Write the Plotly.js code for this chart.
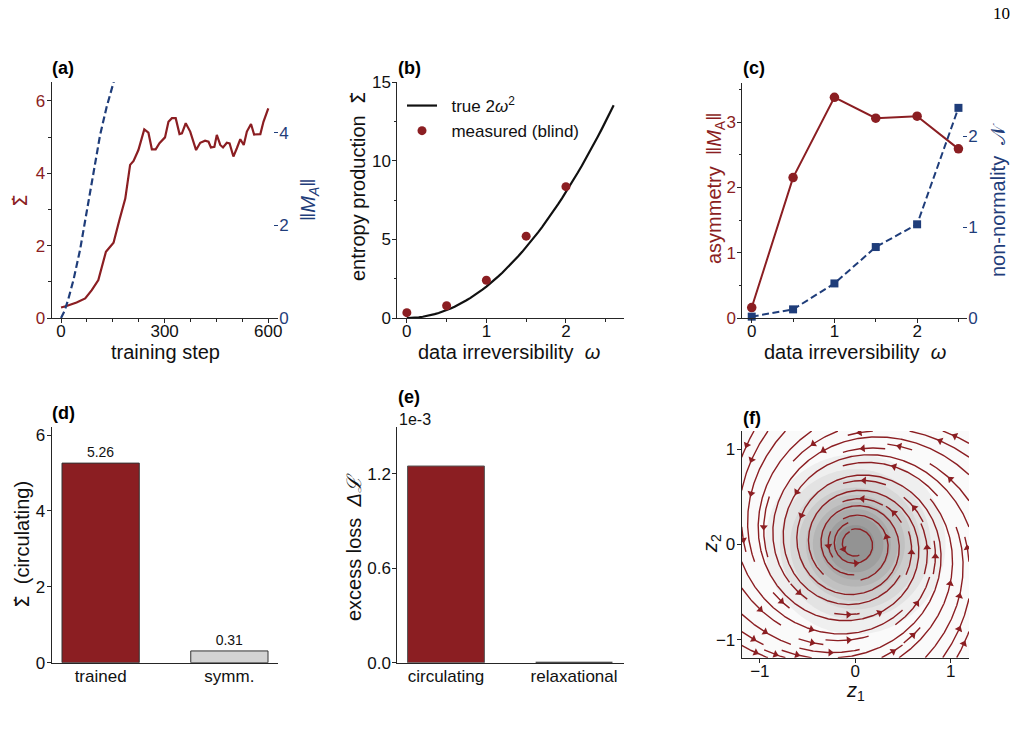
<!DOCTYPE html>
<html>
<head>
<meta charset="utf-8">
<script src="https://cdn.plot.ly/plotly-3.0.1.min.js"></script>
<style>
  html, body { margin: 0; padding: 0; background: #ffffff; }
  #fig { width: 1021px; height: 737px; }
</style>
</head>
<body>
<div id="fig"></div>
<script>
// ---------------- data ----------------
// (a) training curves
const trainStep = [0,16,45,70,89,108,130,152,169,186,200,210,224,241,253,263,274,285,301,311,321,332,343,350,361,374,391,403,417,427,434,444,451,461,469,480,488,499,509,519,529,538,550,559,577,586,600];
const trainSigma = [0.29,0.33,0.43,0.54,0.77,1.05,1.83,2.08,2.71,3.30,4.23,4.34,4.64,5.21,5.12,4.66,4.66,4.83,4.99,5.42,5.52,5.52,5.08,5.10,5.38,5.15,4.64,4.84,4.90,4.87,4.71,4.73,5.06,4.78,4.71,4.84,4.82,4.46,4.69,4.94,4.78,5.15,5.36,5.07,5.08,5.42,5.79];
const normStep = [0,10,20,36,55,74,94,113,132,152,172];
const normMA   = [0,0.15,0.38,0.82,1.47,2.30,3.15,3.95,4.56,5.10,5.62];

// (b) entropy production vs irreversibility
const omegaB = [0, 0.5, 1.0, 1.5, 2.0];
const sigmaMeasured = [0.34, 0.78, 2.40, 5.20, 8.35];
const omegaTrueMax = 2.6;

// (c) asymmetry and non-normality
const omegaC = [0, 0.5, 1.0, 1.5, 2.0, 2.5];
const asymNorm = [0.16, 2.15, 3.38, 3.06, 3.09, 2.59];
const nonNormality = [0.015, 0.095, 0.38, 0.78, 1.03, 2.31];

// (d) circulating entropy production
const circCats = ['trained', 'symm.'];
const circSigma = [5.26, 0.31];

// (e) excess loss
const lossCats = ['circulating', 'relaxational'];
const excessLoss = [1.25e-3, 0.0];
const lossUnit = 1e-3;

// (f) learned drift in latent space: rotation plus radial relaxation
const SPIN = 1.0;
const DAMP0 = 0.06;
const DAMP2 = 0.11;
const DENS_SIGMA = 0.44;
const LAT = 1.19;
const STREAM_DENSITY = 0.9;

// ---------------- helpers ----------------
const W = 1021, H = 737;
const px = p => p / W;
const py = p => 1 - p / H;
const FONT = 'Liberation Sans, Arial, Helvetica, sans-serif';
const RED = '#8b1e22';
const BLUE = '#1f3d7a';
const INK = '#111111';
const SPINE = '#262626';
const SIGDOT = '<span style="font-family:DejaVu Sans">Σ\u0307</span>';

function drift(x, y) {
  const r2 = x * x + y * y;
  const g = DAMP0 + DAMP2 * r2;
  return [-g * x - SPIN * y, SPIN * x - g * y];
}

// Streamline tracer in the spirit of matplotlib's streamplot
function traceStreamlines(field, lo, hi, density) {
  const nm = Math.round(30 * density);
  const mask = new Uint8Array(nm * nm);
  const span = hi - lo;
  const ds = 0.004, maxLen = 4.0, minLen = 0.1;
  const cell = (u, v) => [Math.round(u * (nm - 1)), Math.round(v * (nm - 1))];
  const dir = (u, v) => {
    const f = field(lo + u * span, lo + v * span);
    const a = f[0] / span, b = f[1] / span;
    const s = Math.hypot(a, b);
    return s === 0 ? null : [a / s, b / s];
  };
  const inside = (u, v) => u >= 0 && u <= 1 && v >= 0 && v <= 1;

  function run(u0, v0, sgn, marked) {
    let u = u0, v = v0, len = 0;
    let [cx, cy] = cell(u, v);
    const pts = [];
    while (len < maxLen) {
      const d1 = dir(u, v);
      if (!d1) break;
      const um = u + 0.5 * ds * sgn * d1[0], vm = v + 0.5 * ds * sgn * d1[1];
      if (!inside(um, vm)) break;
      const d2 = dir(um, vm);
      if (!d2) break;
      let un = u + ds * sgn * d2[0], vn = v + ds * sgn * d2[1];
      if (!inside(un, vn)) {
        un = Math.min(1, Math.max(0, un));
        vn = Math.min(1, Math.max(0, vn));
        pts.push([un, vn]);
        len += ds;
        break;
      }
      const [nx, ny] = cell(un, vn);
      if (nx !== cx || ny !== cy) {
        const k = ny * nm + nx;
        if (mask[k]) break;
        mask[k] = 1; marked.push(k);
        cx = nx; cy = ny;
      }
      u = un; v = vn; len += ds;
      pts.push([u, v]);
    }
    return [pts, len];
  }

  // seeds spiral inwards from the border of the mask
  const seeds = [];
  let xf = 0, yf = 1, xl = nm - 1, yl = nm - 1, x = 0, y = 0, d = 'right';
  for (let i = 0; i < nm * nm; i++) {
    seeds.push([x, y]);
    if (d === 'right') { x++; if (x >= xl) { xl--; d = 'up'; } }
    else if (d === 'up') { y++; if (y >= yl) { yl--; d = 'left'; } }
    else if (d === 'left') { x--; if (x <= xf) { xf++; d = 'down'; } }
    else { y--; if (y <= yf) { yf++; d = 'right'; } }
  }

  const lines = [];
  for (const [xm, ym] of seeds) {
    const k0 = ym * nm + xm;
    if (mask[k0]) continue;
    const u0 = xm / (nm - 1), v0 = ym / (nm - 1);
    const marked = [k0];
    mask[k0] = 1;
    const [bp, bl] = run(u0, v0, -1, marked);
    const [fp, fl] = run(u0, v0, 1, marked);
    if (bl + fl > minLen) {
      const pts = bp.reverse().concat([[u0, v0]], fp);
      lines.push(pts.map(p => [lo + p[0] * span, lo + p[1] * span]));
    } else {
      for (const k of marked) mask[k] = 0;
    }
  }
  return lines;
}

// ---------------- traces ----------------
const traces = [];

// (a)
traces.push({
  x: trainStep, y: trainSigma, xaxis: 'x', yaxis: 'y', mode: 'lines',
  line: { color: RED, width: 2.2 }, showlegend: false, hoverinfo: 'skip'
});
traces.push({
  x: normStep, y: normMA, xaxis: 'x', yaxis: 'y2', mode: 'lines',
  line: { color: BLUE, width: 2.2, dash: '7px,3.5px' }, showlegend: false, hoverinfo: 'skip'
});

// (b)
const omegaFine = [], sigmaTrue = [];
for (let i = 0; i <= 52; i++) { const w = omegaTrueMax * i / 52; omegaFine.push(w); sigmaTrue.push(2 * w * w); }
traces.push({
  x: omegaFine, y: sigmaTrue, xaxis: 'x2', yaxis: 'y3', mode: 'lines',
  line: { color: '#111111', width: 2.2 }, name: '\u00a0\u00a0true 2<i>ω</i><sup>2</sup>', showlegend: true, hoverinfo: 'skip'
});
traces.push({
  x: omegaB, y: sigmaMeasured, xaxis: 'x2', yaxis: 'y3', mode: 'markers',
  marker: { color: RED, size: 9 }, name: '\u00a0\u00a0measured (blind)', showlegend: true, cliponaxis: false, hoverinfo: 'skip'
});

// (c)
traces.push({
  x: omegaC, y: asymNorm, xaxis: 'x3', yaxis: 'y4', mode: 'lines+markers',
  line: { color: RED, width: 2 }, marker: { color: RED, size: 9.5 }, showlegend: false, cliponaxis: false, hoverinfo: 'skip'
});
traces.push({
  x: omegaC, y: nonNormality, xaxis: 'x3', yaxis: 'y5', mode: 'lines+markers',
  line: { color: BLUE, width: 2, dash: '7px,3.5px' }, marker: { color: BLUE, size: 8, symbol: 'square' }, showlegend: false, cliponaxis: false, hoverinfo: 'skip'
});

// (d)
traces.push({
  type: 'bar', x: circCats, y: circSigma, xaxis: 'x4', yaxis: 'y6', width: 0.6,
  marker: { color: [RED, '#d3d3d3'], line: { color: '#333333', width: 1 } },
  text: circSigma.map(v => v.toFixed(2)), textposition: 'outside', cliponaxis: false,
  textfont: { family: FONT, size: 14, color: INK }, showlegend: false, hoverinfo: 'skip'
});

// (e)
traces.push({
  type: 'bar', x: lossCats, y: excessLoss.map(v => v / lossUnit), xaxis: 'x5', yaxis: 'y7', width: 0.6,
  marker: { color: [RED, '#222222'], line: { color: ['#555555', '#111111'], width: [1, 2] } },
  showlegend: false, hoverinfo: 'skip'
});

// (f) density backdrop
const gx = [];
for (let i = 0; i <= 80; i++) gx.push(-LAT + 2 * LAT * i / 80);
const dens = gx.map(yv => gx.map(xv => Math.exp(-(xv * xv + yv * yv) / (2 * DENS_SIGMA * DENS_SIGMA))));
traces.push({
  type: 'contour', x: gx, y: gx, z: dens, xaxis: 'x6', yaxis: 'y8',
  colorscale: [[0, '#fafafa'], [1, '#939393']], zmin: 0, zmax: 1, autocontour: false,
  contours: { start: 0.1, end: 0.9, size: 0.1, coloring: 'fill', showlines: false },
  line: { width: 0 }, showscale: false, hoverinfo: 'skip'
});

// (f) streamlines and arrowheads
const lines = traceStreamlines(drift, -LAT, LAT, STREAM_DENSITY);
const sx = [], sy = [], ax = [], ay = [], aang = [];
for (const ln of lines) {
  for (const p of ln) { sx.push(p[0]); sy.push(p[1]); }
  sx.push(null); sy.push(null);
  const cum = [0];
  for (let i = 1; i < ln.length; i++) cum.push(cum[i - 1] + Math.hypot(ln[i][0] - ln[i - 1][0], ln[i][1] - ln[i - 1][1]));
  const half = cum[cum.length - 1] / 2;
  let n = cum.findIndex(c => c >= half);
  if (n < 0 || n >= ln.length - 1) n = Math.max(0, ln.length - 2);
  const dx = ln[n + 1][0] - ln[n][0], dy = ln[n + 1][1] - ln[n][1];
  ax.push((ln[n][0] + ln[n + 1][0]) / 2);
  ay.push((ln[n][1] + ln[n + 1][1]) / 2);
  aang.push(Math.atan2(dx, dy) * 180 / Math.PI);
}
traces.push({
  x: sx, y: sy, xaxis: 'x6', yaxis: 'y8', mode: 'lines',
  line: { color: RED, width: 1.4 }, connectgaps: false, showlegend: false, hoverinfo: 'skip'
});
traces.push({
  x: ax, y: ay, xaxis: 'x6', yaxis: 'y8', mode: 'markers',
  marker: { symbol: 'triangle-up', size: 7, color: RED, angle: aang, line: { width: 0 } },
  showlegend: false, hoverinfo: 'skip'
});

// ---------------- axes ----------------
const tickFont = (c) => ({ family: FONT, size: 17, color: c || INK });
function xAx(d, anchor, extra) {
  return Object.assign({
    domain: [px(d[0]), px(d[1])], anchor: anchor, showline: true, linecolor: SPINE, linewidth: 1,
    ticks: 'outside', ticklen: 4, tickwidth: 1, tickcolor: SPINE, showgrid: false, zeroline: false,
    tickfont: tickFont(), ticklabelstandoff: -6, fixedrange: true
  }, extra);
}
function yAx(d, anchor, extra) {
  return Object.assign({
    domain: [py(d[1]), py(d[0])], anchor: anchor, showline: true, linecolor: SPINE, linewidth: 1,
    ticks: 'outside', ticklen: 4, tickwidth: 1, tickcolor: SPINE, showgrid: false, zeroline: false,
    tickfont: tickFont(), ticklabelstandoff: -2, fixedrange: true
  }, extra);
}
const minorOut = (dt) => ({ dtick: dt, ticks: 'outside', ticklen: 2.5, tickwidth: 1, tickcolor: SPINE, showgrid: false });

const A_X = [51.7, 278.3], A_Y = [82, 318];
const B_X = [397.3, 624], B_Y = [82, 318];
const C_X = [742.3, 967.3], C_Y = [83.3, 318];
const D_X = [51.7, 278.3], D_Y = [426.7, 662.7];
const E_X = [397.3, 624], E_Y = [426.7, 662.7];
const F_X = [741.7, 969], F_Y = [431, 657.7];

const layout = {
  width: W, height: H, margin: { l: 0, r: 0, t: 0, b: 0 },
  paper_bgcolor: '#ffffff', plot_bgcolor: 'rgba(0,0,0,0)',
  font: { family: FONT, color: INK },
  showlegend: true,
  legend: {
    x: px(402), y: py(88), xanchor: 'left', yanchor: 'top',
    font: { family: FONT, size: 17, color: INK }, bgcolor: 'rgba(0,0,0,0)', borderwidth: 0,
    tracegroupgap: 0, itemclick: false, itemdoubleclick: false
  },

  xaxis: xAx(A_X, 'y', { range: [-27, 629], tick0: 0, dtick: 300, minor: minorOut(75) }),
  yaxis: yAx(A_Y, 'x', { range: [0, 6.52], tick0: 0, dtick: 2, minor: minorOut(1), tickfont: tickFont(RED) }),
  yaxis2: yAx(A_Y, 'x', { overlaying: 'y', side: 'right', range: [0, 5.1], tick0: 0, dtick: 2, showline: false,
                          ticks: 'inside', ticklen: 4, tickcolor: BLUE, tickfont: tickFont(BLUE), ticklabelstandoff: 0 }),

  xaxis2: xAx(B_X, 'y3', { range: [-0.12, 2.73], tick0: 0, dtick: 1, minor: minorOut(0.5) }),
  yaxis3: yAx(B_Y, 'x2', { range: [0, 15], tick0: 0, dtick: 5, minor: minorOut(2.5) }),

  xaxis3: xAx(C_X, 'y4', { range: [-0.114, 2.607], tick0: 0, dtick: 1, minor: minorOut(0.5) }),
  yaxis4: yAx(C_Y, 'x3', { range: [0, 3.594], tick0: 0, dtick: 1, minor: minorOut(0.5), tickfont: tickFont(RED) }),
  yaxis5: yAx(C_Y, 'x3', { overlaying: 'y4', side: 'right', range: [0, 2.58], tick0: 0, dtick: 1, showline: false,
                           ticks: 'inside', ticklen: 4, tickcolor: BLUE, tickfont: tickFont(BLUE), ticklabelstandoff: 0 }),

  xaxis4: xAx(D_X, 'y6', { type: 'category', range: [-0.38, 1.38], ticks: '', ticklabelstandoff: -2 }),
  yaxis6: yAx(D_Y, 'x4', { range: [0, 6.22], tick0: 0, dtick: 2 }),

  xaxis5: xAx(E_X, 'y7', { type: 'category', range: [-0.38, 1.39], ticks: '', ticklabelstandoff: -2 }),
  yaxis7: yAx(E_Y, 'x5', { range: [0, 1.5], tick0: 0, dtick: 0.6, tickformat: '.1f' }),

  xaxis6: xAx(F_X, 'y8', { range: [-LAT, LAT], tick0: 0, dtick: 1 }),
  yaxis8: yAx(F_Y, 'x6', { range: [-LAT, LAT], tick0: 0, dtick: 1 }),

  annotations: []
};

const ann = layout.annotations;
function label(text, x, y, opts) {
  ann.push(Object.assign({
    text: text, xref: 'paper', yref: 'paper', x: px(x), y: py(y), xanchor: 'center', yanchor: 'middle',
    showarrow: false, font: { family: FONT, size: 20, color: INK }
  }, opts));
}
const vert = (c) => ({ textangle: -90, font: { family: FONT, size: 20, color: c || INK } });
const panel = { xanchor: 'left', font: { family: FONT, size: 18, color: '#000000' } };

// panel tags
label('<b>(a)</b>', 50, 68, panel);
label('<b>(b)</b>', 396, 68, panel);
label('<b>(c)</b>', 741, 68, panel);
label('<b>(d)</b>', 50, 413, panel);
label('<b>(e)</b>', 396, 397, panel);
label('<b>(f)</b>', 741, 418, panel);

// axis titles
label('training step', 165, 352);
label(SIGDOT, 20, 201, vert(RED));
label('‖<i>M</i><sub><i>A</i></sub>‖', 309, 200, vert(BLUE));

label('data irreversibility\u00a0\u00a0<i>ω</i>', 509, 352);
label('entropy production\u00a0\u00a0' + SIGDOT, 358, 187, vert());

label('data irreversibility\u00a0\u00a0<i>ω</i>', 855, 352);
label('asymmetry\u00a0\u00a0‖<i>M</i><sub>A</sub>‖', 715, 189, vert(RED));
label('non-normality\u00a0\u00a0𝒩', 998, 200, vert(BLUE));

label(SIGDOT + '\u00a0\u00a0(circulating)', 22, 545, vert());
label('excess loss\u00a0\u00a0<i>Δℒ</i>', 354, 547, vert());
label('1e-3', 397, 419, { xanchor: 'left', font: { family: FONT, size: 16, color: INK } });

label('<i>z</i><sub>1</sub>', 855, 691);
label('<i>z</i><sub>2</sub>', 711, 544, vert());

// page number
label('10', 1012, 13, { xanchor: 'right', font: { family: 'Liberation Serif, DejaVu Serif, serif', size: 17, color: '#000000' } });

Plotly.newPlot('fig', traces, layout, { staticPlot: true, displayModeBar: false });
</script>
</body>
</html>
